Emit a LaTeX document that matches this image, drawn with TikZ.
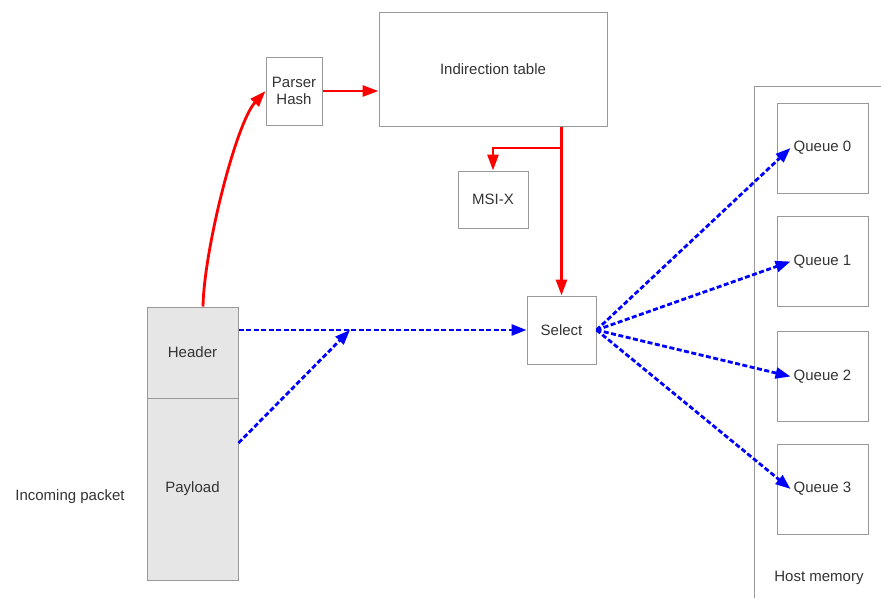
\documentclass[tikz,border=0pt]{standalone}
\usepackage{fontspec}
\setmainfont{Liberation Sans}
\usetikzlibrary{arrows.meta}
\definecolor{boxgray}{HTML}{999999}
\definecolor{pktfill}{HTML}{E6E6E6}
\definecolor{txtgray}{HTML}{333333}
\begin{document}
\begin{tikzpicture}[x=1pt,y=-1pt,
		font=\fontsize{15}{17}\selectfont, text=txtgray,
		box/.style={draw=boxgray,line width=1pt,inner sep=0pt,align=center},
		pkt/.style={box,fill=pktfill,minimum width=91pt},
		redarrow/.style={draw=red,line width=2.8pt,-{Triangle[length=16pt,width=11pt]}},
		bluearrow/.style={draw=blue,line width=2.8pt,dash pattern=on 5pt off 2.5pt,-{Triangle[length=15pt,width=11pt]}}]
	\useasboundingbox (0,0) rectangle (881,598);
	% packet
	\node [pkt,minimum height=91pt] (header) at (192.5,352.5) {Header};
	\node [pkt,minimum height=182pt] (payload) at (192.5,489) {Payload};
	\node (incoming) at (70,497) {Incoming packet};
	% hashing
	\node [box,minimum width=56pt,minimum height=68pt] (parser) at (294,91) {Parser\\Hash};
	\node [box,minimum width=228pt,minimum height=114pt] (table) at (493,69) {Indirection table};
	\node [box,minimum width=70pt,minimum height=57pt] (msi) at (493,199.5) {MSI-X};
	\node [box,minimum width=69pt,minimum height=68pt] (select) at (561.5,330) {Select};
	% host memory
	\draw [boxgray,line width=1pt] (754,598)--(754,86)--(881,86);
	\node (host) at (819,578) {Host memory};
	\foreach \i/\y in {0/148,1/261.5,2/376.5,3/489}{
		\node [box,minimum width=91pt,minimum height=90pt] (q\i) at (822.5,\y) {};
		\node [inner sep=3pt] (l\i) at (q\i) {Queue \i};
	}
	% red paths
	\draw [redarrow] ([xshift=10.5pt]header.north) ..controls (204,250) and (236,123) .. (parser.west);
	\draw [redarrow] (parser.east)--(parser.east -| table.west);
	\draw [redarrow] (table.south -| select.north)--(select.north);
	\coordinate (fork) at (561.5,148);
	\draw [redarrow] (fork) -| (msi.north);
	% blue paths
	\coordinate (join) at (350,330);
	\draw [bluearrow] ([yshift=22.5pt]header.east)--(select.west);
	\draw [bluearrow] ([yshift=46pt]payload.east)--(join);
	\foreach \i in {0,...,3}
		\draw [bluearrow] (select.east)--(l\i.west);
\end{tikzpicture}
\end{document}
